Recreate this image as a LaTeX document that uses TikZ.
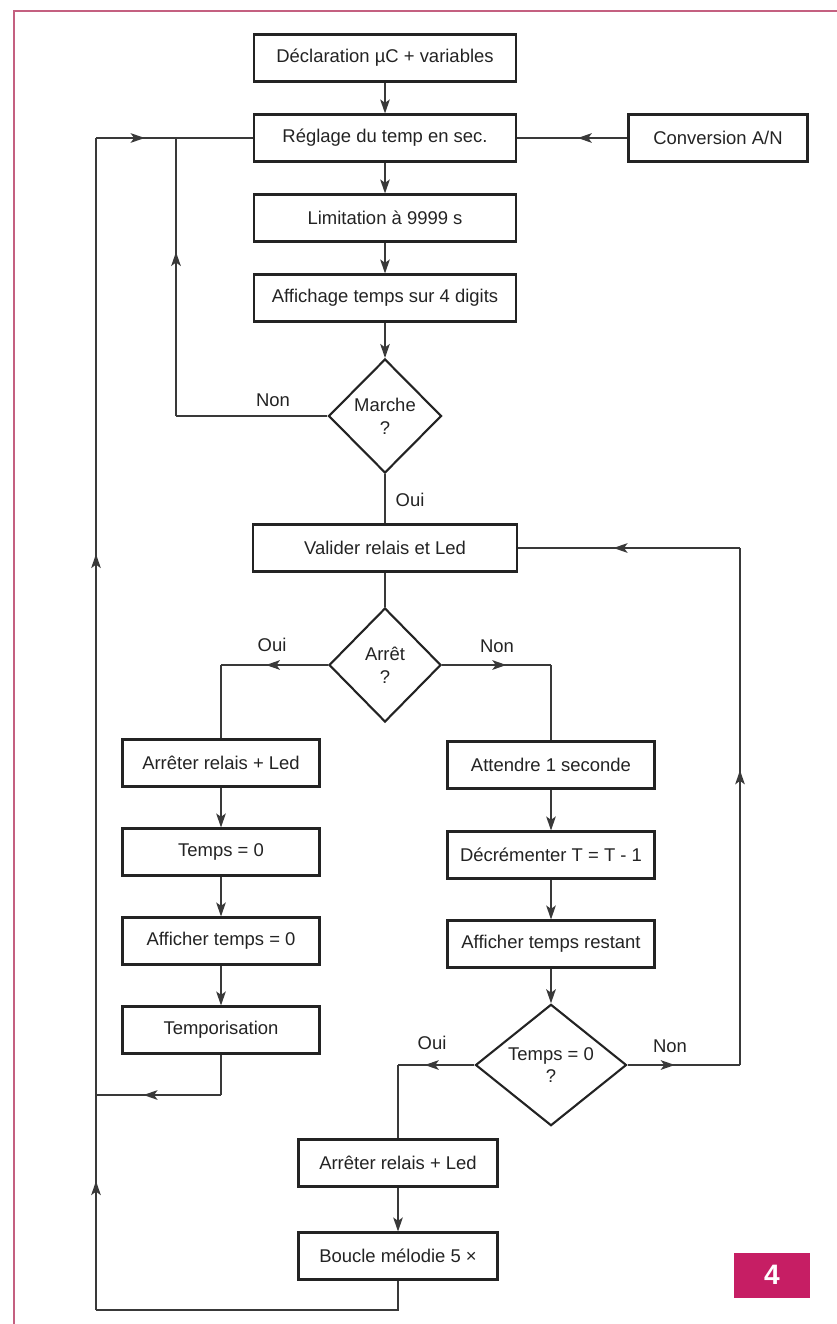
\documentclass[tikz,border=0pt]{standalone}
\usepackage{fontspec}
\setmainfont{Liberation Sans}
\usetikzlibrary{arrows.meta,calc,positioning,shapes.geometric,decorations.markings}
\definecolor{ink}{RGB}{35,35,35}
\definecolor{framepink}{RGB}{196,96,128}
\definecolor{badgemag}{RGB}{198,30,100}

\begin{document}
\begin{tikzpicture}[x=0.2mm,y=-0.2mm,
  txt/.style={font=\fontsize{10.5}{13}\selectfont,text=ink},
  box/.style={txt,draw=ink,line width=1.2pt,minimum width=#1,minimum height=9.4mm,inner sep=2pt},
  decision/.style={txt,diamond,draw=ink,line width=1.2pt,minimum width=#1,minimum height=22.8mm,inner sep=0pt,align=center},
  link/.style={draw=ink!90,line width=0.75pt},
  tip/.style={-{Stealth[length=8pt,width=5.5pt,inset=2pt]}},
  midarr/.style={postaction={decorate,decoration={markings,
    mark=at position #1 with {\arrow{Stealth[length=8pt,width=5.5pt,inset=2pt]}}}}}]
\useasboundingbox (0,0) rectangle (837,1324);
\draw[framepink,line width=0.8pt] (14,1324)--(14,11)--(837,11);

\node[box=52.4mm] (decl)   at (385,58)  {Déclaration µC + variables};
\node[box=52.4mm] (regl)   at (385,138) {Réglage du temp en sec.};
\node[box=35.8mm] (conv)   at (718,138) {Conversion A/N};
\node[box=52.4mm] (limit)  at (385,218) {Limitation à 9999 s};
\node[box=52.4mm] (affich) at (385,298) {Affichage temps sur 4 digits};
\node[decision=22.6mm] (marche) at (385,416) {Marche\\?};
\node[box=52.8mm] (valid)  at (385,548) {Valider relais et Led};
\node[decision=22.4mm] (arret) at (385,665) {Arrêt\\?};

\node[box=39.4mm] (stopa)  at (221,763)  {Arrêter relais + Led};
\node[box=39.4mm] (tzero)  at (221,852)  {Temps = 0};
\node[box=39.4mm] (afzero) at (221,941)  {Afficher temps = 0};
\node[box=39.4mm] (tempo)  at (221,1030) {Temporisation};

\node[box=41.4mm] (attend) at (551,765) {Attendre 1 seconde};
\node[box=41.4mm] (decr)   at (551,855) {Décrémenter T = T - 1};
\node[box=41.4mm] (afrest) at (551,944) {Afficher temps restant};
\node[decision=30.2mm] (tq) at (551,1065) {Temps = 0\\?};

\node[box=39.8mm] (stopb)  at (398,1163) {Arrêter relais + Led};
\node[box=39.8mm] (boucle) at (398,1256) {Boucle mélodie 5 ×};

\node[txt] (lnona) at (273,400)  {Non};
\node[txt] (louia) at (410,500)  {Oui};
\node[txt] (louib) at (272,645)  {Oui};
\node[txt] (lnonb) at (497,646)  {Non};
\node[txt] (louic) at (432,1043) {Oui};
\node[txt] (lnonc) at (670,1046) {Non};

\node[fill=badgemag,minimum width=15.2mm,minimum height=9mm,text=white,
  font=\bfseries\fontsize{16}{16}\selectfont] (badge) at (772,1275) {4};

\coordinate (jreg) at (176,138);
\coordinate (nonc) at (176,416);
\coordinate (lptop) at (96,138);
\coordinate (lpbot) at (96,1310);
\coordinate (bcbot) at (398,1310);
\coordinate (tmpc) at (221,1095);
\coordinate (tmpj) at (96,1095);
\coordinate (arl) at (221,665);
\coordinate (arr) at (551,665);
\coordinate (tql) at (398,1065);
\coordinate (tqr) at (740,1065);
\coordinate (var) at (740,548);

\foreach \a/\b in {decl/regl,regl/limit,limit/affich,affich/marche,stopa/tzero,tzero/afzero,afzero/tempo,attend/decr,decr/afrest,afrest/tq,stopb/boucle}
  \draw[link,tip] (\a.south)--(\b.north);
\draw[link] (marche.south)--(valid.north);
\draw[link] (valid.south)--(arret.north);
\draw[link,midarr=0.45] (conv.west)--(regl.east);

\draw[link] (marche.west)--(nonc);
\draw[link,midarr=0.59] (nonc)--(jreg);
\draw[link] (boucle.south)--(bcbot)--(lpbot);
\draw[link,midarr=0.11,midarr=0.645] (lpbot)--(lptop);
\draw[link,midarr=0.31] (lptop)--(regl.west);

\draw[link,midarr=0.58] (arret.west)--(arl);
\draw[link] (arl)--(stopa.north);
\draw[link,midarr=0.59] (arret.east)--(arr);
\draw[link] (arr)--(attend.north);
\draw[link] (tempo.south)--(tmpc);
\draw[link,midarr=0.62] (tmpc)--(tmpj);

\draw[link,midarr=0.65] (tq.west)--(tql);
\draw[link] (tql)--(stopb.north);
\draw[link,midarr=0.42] (tq.east)--(tqr);
\draw[link,midarr=0.57] (tqr)--(var);
\draw[link,midarr=0.57] (var)--(valid.east);
\end{tikzpicture}
\end{document}
